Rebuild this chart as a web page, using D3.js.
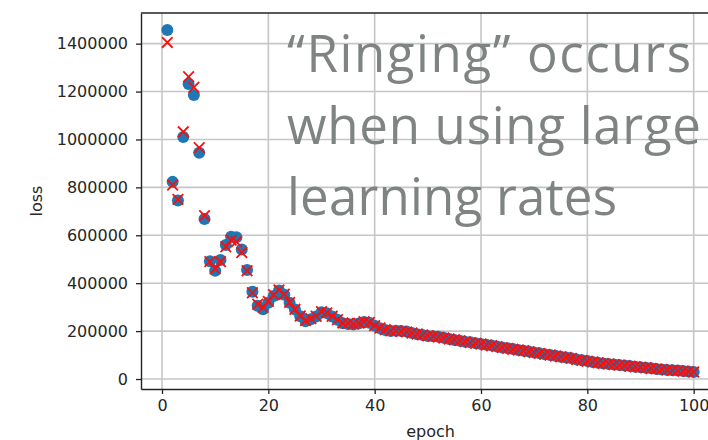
<html>
<head>
    <meta charset="UTF-8">
    <title>Ringing loss</title>
    <script src="https://d3js.org/d3.v7.min.js"></script>
    <style>
        body { margin: 0; background: #fff; }
    </style>
</head>
<body>
    <svg width="708" height="440"></svg>
    <script>
        // loss per epoch
        var epochs = d3.range(1, 101);

        var lossActual = [
            1457000, 823000, 745000, 1010000, 1232000, 1186000, 945000, 668000, 492000, 452000,
            497000, 559000, 594000, 592000, 541000, 455000, 364000, 306000, 291000, 318000,
            346000, 369000, 352000, 318000, 290000, 262000, 241000, 249000, 261000, 279000,
            275000, 261000, 247000, 233000, 230000, 228000, 232000, 238000, 235000, 222000,
            212000, 205000, 200000, 201000, 200000, 198000, 192000, 187000, 184000, 180000,
            178000, 176000, 172000, 167000, 163000, 160000, 156000, 153000, 149000, 146000,
            143000, 140000, 136000, 131000, 128000, 125000, 121000, 118000, 115000, 111000,
            107000, 103000, 100000, 97000, 93000, 90000, 87000, 81000, 78000, 75000,
            71000, 68000, 65000, 63000, 61000, 58000, 56000, 54000, 51000, 49000,
            47000, 45000, 42000, 40000, 38000, 37000, 35000, 33000, 31000, 29000
        ];

        var lossPredicted = [
            1405000, 810000, 750000, 1032000, 1262000, 1218000, 966000, 682000, 490000, 460000,
            490000, 552000, 580000, 573000, 528000, 452000, 360000, 312000, 299000, 324000,
            352000, 372000, 354000, 320000, 291000, 263000, 244000, 252000, 262000, 281000,
            276000, 262000, 248000, 234000, 232000, 229000, 233000, 239000, 236000, 223000,
            213000, 206000, 201000, 201000, 199000, 197000, 192000, 188000, 184000, 180000,
            178000, 175000, 171000, 167000, 164000, 160000, 156000, 152000, 149000, 146000,
            142000, 139000, 135000, 131000, 128000, 124000, 121000, 118000, 114000, 110000,
            107000, 103000, 100000, 96000, 93000, 90000, 86000, 81000, 78000, 74000,
            71000, 68000, 65000, 63000, 60000, 58000, 56000, 53000, 51000, 49000,
            47000, 44000, 42000, 40000, 38000, 36000, 35000, 33000, 31000, 29000
        ];

        var xTicks = [0, 20, 40, 60, 80, 100];
        var yTicks = [0, 200000, 400000, 600000, 800000, 1000000, 1200000, 1400000];

        var noteLines = ['\u201CRinging\u201D occurs', 'when using large', 'learning rates'];

        var svg = d3.select('svg');
        var box = { left: 141, right: 720, top: 13, bottom: 389 };

        var x_scale = d3.scaleLinear().domain([-3.95, 104.95]).range([box.left, box.right]);
        var y_scale = d3.scaleLinear().domain([-41750, 1528000]).range([box.bottom, box.top]);

        var plot = svg.append('g');

        // grid
        plot.append('g').selectAll('line').data(xTicks).enter().append('line')
            .attr('x1', d => x_scale(d)).attr('x2', d => x_scale(d))
            .attr('y1', box.top).attr('y2', box.bottom)
            .attr('stroke', '#c6c6c6').attr('stroke-width', 1.6);
        plot.append('g').selectAll('line').data(yTicks).enter().append('line')
            .attr('x1', box.left).attr('x2', box.right)
            .attr('y1', d => y_scale(d)).attr('y2', d => y_scale(d))
            .attr('stroke', '#c6c6c6').attr('stroke-width', 1.6);

        // overlay note
        plot.append('g').selectAll('text').data(noteLines).enter().append('text')
            .attr('x', 287)
            .attr('y', (d, i) => 72 + i * 71.5)
            .attr('fill', '#7f8483')
            .attr('font-family', '"Open Sans", Lato, sans-serif')
            .attr('font-size', 51)
            .attr('textLength', (d, i) => [404, 414, 330][i])
            .attr('lengthAdjust', 'spacing')
            .text(d => d);

        // markers
        var clip = svg.append('clipPath').attr('id', 'clip')
            .append('rect').attr('x', box.left).attr('y', box.top)
            .attr('width', box.right - box.left).attr('height', box.bottom - box.top);
        var marks = svg.append('g').attr('clip-path', 'url(#clip)');

        marks.selectAll('circle').data(epochs).enter().append('circle')
            .attr('cx', (d) => x_scale(d))
            .attr('cy', (d, i) => y_scale(lossActual[i]))
            .attr('r', 6)
            .attr('fill', '#1f77b4');

        var cross = d3.symbol().type(d3.symbolX).size(75);
        marks.selectAll('path').data(epochs).enter().append('path')
            .attr('d', cross)
            .attr('transform', (d, i) => 'translate(' + x_scale(d) + ',' + y_scale(lossPredicted[i]) + ')')
            .attr('fill', 'none')
            .attr('stroke', '#f51010')
            .attr('stroke-width', 1.8);

        // axes
        var yAxis = svg.append('g')
            .attr('transform', 'translate(' + box.left + ',0)')
            .call(d3.axisLeft(y_scale).tickValues(yTicks).tickFormat(d3.format('d')).tickSize(5).tickPadding(8).tickSizeOuter(0));
        var xAxis = svg.append('g')
            .attr('transform', 'translate(0,' + box.bottom + ')')
            .call(d3.axisBottom(x_scale).tickValues(xTicks).tickSize(5).tickPadding(6).tickSizeOuter(0));

        [yAxis, xAxis].forEach(function(ax) {
            ax.select('.domain').attr('stroke', '#222').attr('stroke-width', 1.4);
            ax.selectAll('.tick line').attr('stroke', '#222').attr('stroke-width', 1.3);
            ax.selectAll('.tick text')
                .attr('fill', '#262626')
                .attr('font-family', '"DejaVu Sans", sans-serif')
                .attr('font-size', 16);
        });
        // the domain of axisLeft/axisBottom only spans the range; top spine drawn by hand
        svg.append('line')
            .attr('x1', box.left).attr('x2', box.right)
            .attr('y1', box.top).attr('y2', box.top)
            .attr('stroke', '#222').attr('stroke-width', 1.4);

        // axis titles
        svg.append('text')
            .attr('transform', 'translate(41.5,' + (box.top + box.bottom) / 2 + ') rotate(-90)')
            .attr('text-anchor', 'middle')
            .attr('fill', '#262626')
            .attr('font-family', '"DejaVu Sans", sans-serif')
            .attr('font-size', 16)
            .text('loss');
        svg.append('text')
            .attr('x', (box.left + box.right) / 2)
            .attr('y', 437)
            .attr('text-anchor', 'middle')
            .attr('fill', '#262626')
            .attr('font-family', '"DejaVu Sans", sans-serif')
            .attr('font-size', 16)
            .text('epoch');
    </script>
</body>
</html>
